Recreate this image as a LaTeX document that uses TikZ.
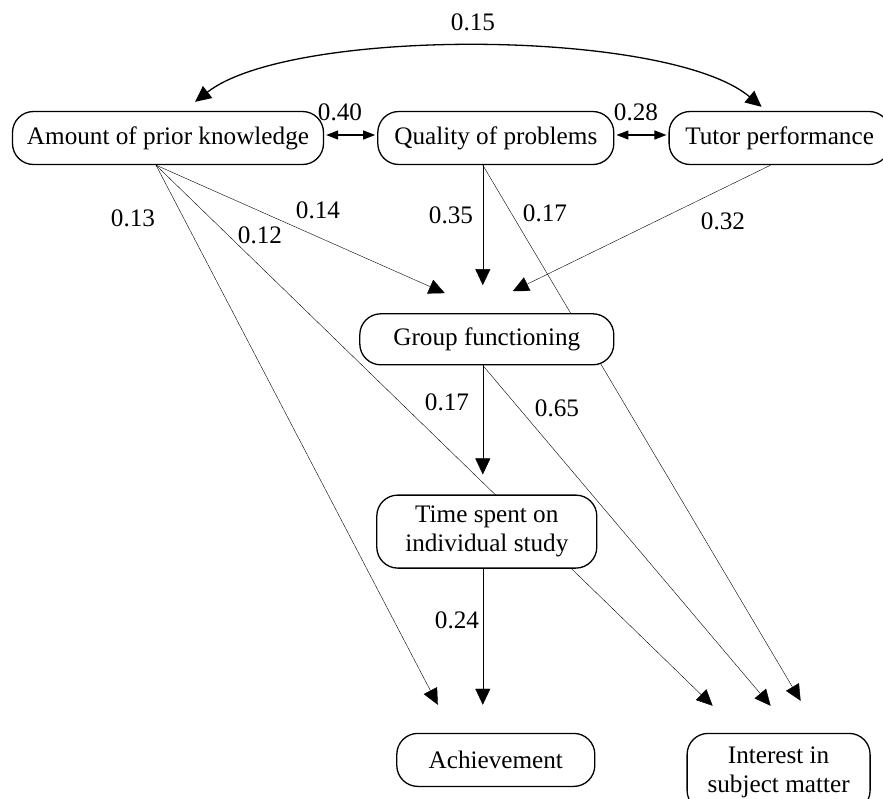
\documentclass[tikz,border=0pt]{standalone}
\usepackage{fontspec}
\setmainfont{Liberation Serif}
\usetikzlibrary{arrows.meta,positioning,backgrounds}

\begin{document}
\begin{tikzpicture}[
  x=1pt,y=1pt,
  font=\fontsize{25.2}{28.5}\selectfont,
  line width=1.3pt,
  box/.style={draw,fill=white,rounded corners=21pt,minimum height=53pt,inner sep=0pt,align=center},
  tallbox/.style={box,minimum height=73pt},
  coef/.style={inner sep=0pt},
  >/.tip={Triangle[length=16pt,width=15pt]},
  dbl/.style={{Triangle[length=12pt,width=9pt]}-{Triangle[length=12pt,width=9pt]}},
  every edge/.style={draw,->}
]
\useasboundingbox (0,0) rectangle (883,-798);
\node[box,minimum width=311pt] (amount) at (168,-138) {Amount of prior knowledge};
\node[box,minimum width=236pt,right=53pt of amount] (quality) {Quality of problems};
\node[box,minimum width=221pt,right=54pt of quality] (tutor) {Tutor performance};
\node[box,minimum width=254pt,minimum height=51pt,below=148pt of quality,xshift=-9pt] (group) {Group functioning};
\node[tallbox,minimum width=220pt,below=129pt of group] (time) {Time spent on\\individual study};
\node[box,minimum width=198pt,below=164pt of time,xshift=9pt] (achieve) {Achievement};
\node[tallbox,minimum width=183pt,minimum height=78pt,right=91pt of achieve.north east,anchor=north west] (interest) {Interest in\\subject matter};
% where the paths leave and end
\coordinate (amount-out) at ([xshift=-12pt]amount.south);
\coordinate (quality-out) at ([xshift=-13pt]quality.south);
\coordinate (tutor-out) at ([xshift=-9pt]tutor.south);
\coordinate (group-out) at ([xshift=-4pt]group.south);
\coordinate (time-out) at ([xshift=-4pt]time.south);
\coordinate (group-in1) at ([shift={(-42pt,20pt)}]group.north);
\coordinate (group-in2) at ([shift={(-4pt,28pt)}]group.north);
\coordinate (group-in3) at ([shift={(26pt,22pt)}]group.north);
\coordinate (time-in) at ([shift={(-4pt,20pt)}]time.north);
\coordinate (achieve-in1) at ([shift={(-58pt,28pt)}]achieve.north);
\coordinate (achieve-in2) at ([shift={(-13pt,28pt)}]achieve.north);
\coordinate (interest-in1) at ([shift={(-66pt,27pt)}]interest.north);
\coordinate (interest-in2) at ([shift={(-8pt,27pt)}]interest.north);
\coordinate (interest-in3) at ([shift={(22pt,32pt)}]interest.north);
\begin{scope}[on background layer]
\draw (amount-out) edge (group-in1);
\draw (amount-out) edge (achieve-in1);
\draw (amount-out) edge (interest-in1);
\draw (quality-out) edge (group-in2);
\draw (quality-out) edge (interest-in3);
\draw (tutor-out) edge (group-in3);
\draw (group-out) edge (time-in);
\draw (group-out) edge (interest-in2);
\draw (time-out) edge (achieve-in2);
\end{scope}
% correlations
\draw[dbl,shorten <=2pt,shorten >=2pt] ([yshift=3pt]amount.east) -- ([yshift=3pt]quality.west);
\draw[dbl,shorten <=2pt,shorten >=2pt] ([yshift=3pt]quality.east) -- ([yshift=3pt]tutor.west);
\draw[<->] ([shift={(-18pt,4pt)}]tutor.north) to[out=140,in=38,looseness=0.55] ([shift={(27pt,9pt)}]amount.north);
% path coefficients
\node[coef] (c-at) at (473,-22) {0.15};
\node[coef] (c-aq) at (340,-112) {0.40};
\node[coef] (c-qt) at (636,-112) {0.28};
\node[coef] (c-aa) at (133,-218) {0.13};
\node[coef] (c-ag) at (318,-210) {0.14};
\node[coef] (c-ai) at (260,-235) {0.12};
\node[coef] (c-qg) at (451,-215) {0.35};
\node[coef] (c-qi) at (545,-213) {0.17};
\node[coef] (c-tg) at (723,-221) {0.32};
\node[coef] (c-gt) at (447,-402) {0.17};
\node[coef] (c-gi) at (557,-408) {0.65};
\node[coef] (c-ta) at (457,-620) {0.24};
\end{tikzpicture}
\end{document}
